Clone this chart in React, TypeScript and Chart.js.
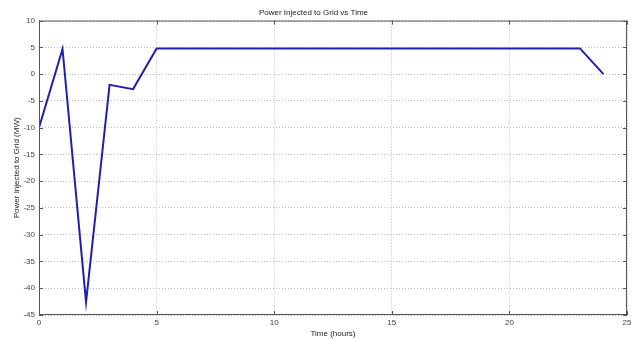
import React, { useEffect, useRef } from "react";
import { Chart, registerables } from "chart.js";

Chart.register(...registerables);

const hours = [0, 1, 2, 3, 4, 5, 6, 7, 8, 9, 10, 11, 12, 13, 14, 15, 16, 17, 18, 19, 20, 21, 22, 23, 24];
const power = [-10, 4.7, -42.6, -2.0, -2.8, 4.8, 4.8, 4.8, 4.8, 4.8, 4.8, 4.8, 4.8, 4.8, 4.8, 4.8, 4.8, 4.8, 4.8, 4.8, 4.8, 4.8, 4.8, 4.8, 0];
const xTicks = [0, 5, 10, 15, 20, 25];
const yTicks = [10, 5, 0, -5, -10, -15, -20, -25, -30, -35, -40, -45];

const boxPlugin = {
  id: "matlabBox",
  afterDatasetsDraw(chart: any) {
    const { ctx, chartArea: a, scales } = chart;
    ctx.save();
    ctx.strokeStyle = "#555";
    ctx.lineWidth = 1;
    ctx.setLineDash([]);
    ctx.strokeRect(a.left + 0.5, a.top + 0.5, a.right - a.left - 1, a.bottom - a.top - 1);
    const t = 4;
    ctx.beginPath();
    xTicks.forEach((v) => {
      const px = Math.round(scales.x.getPixelForValue(v)) + 0.5;
      ctx.moveTo(px, a.bottom);
      ctx.lineTo(px, a.bottom - t);
      ctx.moveTo(px, a.top);
      ctx.lineTo(px, a.top + t);
    });
    yTicks.forEach((v) => {
      const py = Math.round(scales.y.getPixelForValue(v)) + 0.5;
      ctx.moveTo(a.left, py);
      ctx.lineTo(a.left + t, py);
      ctx.moveTo(a.right, py);
      ctx.lineTo(a.right - t, py);
    });
    ctx.stroke();
    ctx.restore();
  },
};

export default function App() {
  const ref = useRef<HTMLCanvasElement>(null);
  useEffect(() => {
    document.body.style.margin = "0";
    const font = { family: "'Liberation Sans', Arial, sans-serif", size: 8, weight: "normal" as const };
    const chart = new Chart(ref.current!, {
      type: "line",
      data: {
        datasets: [
          {
            data: hours.map((h, i) => ({ x: h, y: power[i] })),
            borderColor: "#2020a8",
            borderWidth: 2,
            pointRadius: 0,
            tension: 0,
            fill: false,
          },
        ],
      },
      options: {
        animation: false,
        responsive: false,
        layout: { padding: { left: 0, right: 11, top: 0, bottom: 0 } },
        plugins: {
          legend: { display: false },
          tooltip: { enabled: false },
          title: {
            display: true,
            text: "Power Injected to Grid vs Time",
            color: "#222",
            font,
            padding: { top: 8, bottom: 3 },
          },
        },
        scales: {
          x: {
            type: "linear",
            min: 0,
            max: 25,
            afterBuildTicks: (s: any) => {
              s.ticks = xTicks.map((v) => ({ value: v }));
            },
            afterFit: (s: any) => {
              s.height = 24;
            },
            ticks: { color: "#444", font, padding: 3, maxRotation: 0 },
            grid: {
              drawTicks: false,
              color: "#bdbdbd",
              lineWidth: 1,
            },
            border: { display: false, dash: [1, 2] },
            title: {
              display: true,
              text: "Time (hours)",
              color: "#222",
              font,
              padding: { top: 0, bottom: 0 },
            },
          },
          y: {
            type: "linear",
            min: -45,
            max: 10,
            afterBuildTicks: (s: any) => {
              s.ticks = yTicks.map((v) => ({ value: v }));
            },
            afterFit: (s: any) => {
              s.width = 39;
            },
            ticks: { color: "#444", font, padding: 4 },
            grid: {
              drawTicks: false,
              color: "#bdbdbd",
              lineWidth: 1,
            },
            border: { display: false, dash: [1, 2] },
            title: {
              display: true,
              text: "Power Injected to Grid (MW)",
              color: "#222",
              font,
              padding: { top: 12, bottom: 0 },
            },
          },
        },
      },
      plugins: [boxPlugin],
    });
    return () => chart.destroy();
  }, []);
  return <canvas ref={ref} width={638} height={339} style={{ display: "block" }} />;
}
